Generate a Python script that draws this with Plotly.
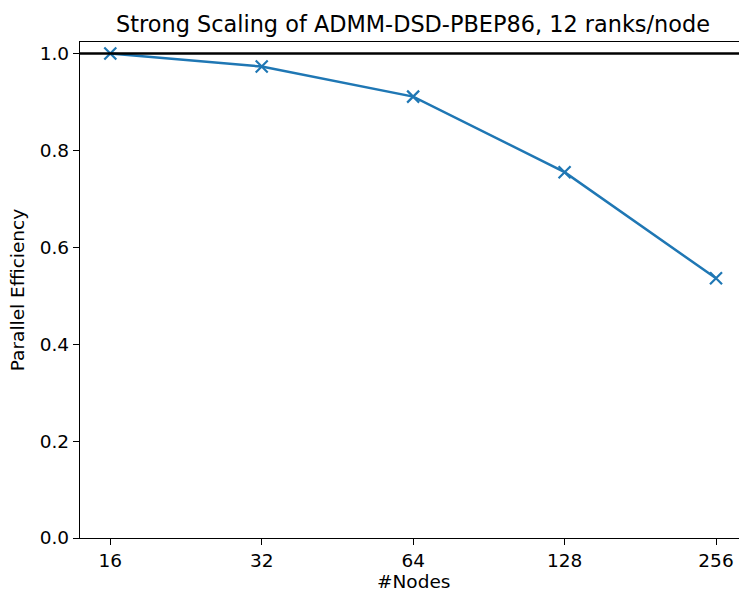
import plotly.graph_objects as go
import math

nodes = [16, 32, 64, 128, 256]
efficiency = [1.0, 0.973, 0.911, 0.755, 0.536]
x_tick_labels = ["16", "32", "64", "128", "256"]
y_ticks = [0.0, 0.2, 0.4, 0.6, 0.8, 1.0]

W, H = 739, 592
L, T, B, R = 80, 42, 54, 0
plot_w = W - L - R

# log2 axis with matplotlib-like 5% margins; right edge clipped by window
lo2 = math.log2(16) - 0.2
px_per = (746.3 - 80) / 4.4
hi2 = lo2 + plot_w / px_per
rng = [lo2 * math.log10(2), hi2 * math.log10(2)]

blue = "#1f77b4"
font = "DejaVu Sans"
fs = 18.5

fig = go.Figure()
fig.add_trace(go.Scatter(
    x=nodes, y=efficiency, mode="lines+markers",
    line=dict(color=blue, width=2.5),
    marker=dict(symbol="x-thin", size=12, line=dict(color=blue, width=2.2), color=blue),
    showlegend=False,
))

fig.add_shape(type="line", xref="paper", yref="y", x0=0, x1=1, y0=1.0, y1=1.0,
              line=dict(color="black", width=2.5), layer="above")

fig.update_layout(
    width=W, height=H,
    margin=dict(l=L, r=R, t=T, b=B),
    paper_bgcolor="white", plot_bgcolor="white",
    font=dict(family=font, size=fs, color="black"),
    title=dict(text="Strong Scaling of ADMM-DSD-PBEP86, 12 ranks/node",
               font=dict(family=font, size=22.4, color="black"),
               x=413 / W, xref="container", xanchor="center",
               y=1 - 32 / H, yref="container", yanchor="bottom"),
    xaxis=dict(type="log", range=rng, tickvals=nodes, ticktext=x_tick_labels,
               showgrid=False, zeroline=False, showline=True, linecolor="black",
               linewidth=1.4, mirror=True, ticks="outside", ticklen=6, tickwidth=1.3,
               tickcolor="black", tickfont=dict(size=fs)),
    yaxis=dict(range=[0, 1.0237], tickvals=y_ticks,
               ticktext=[f"{v:.1f}" for v in y_ticks],
               showgrid=False, zeroline=False, showline=True, linecolor="black",
               linewidth=1.4, ticks="outside", ticklen=6, tickwidth=1.3,
               tickcolor="black", tickfont=dict(size=fs),
               title=dict(text="Parallel Efficiency", font=dict(size=fs), standoff=10)),
    annotations=[dict(text="#Nodes", xref="paper", yref="paper",
                      x=(413 - L) / plot_w, y=0, xanchor="center", yanchor="top",
                      yshift=-31, showarrow=False, font=dict(size=fs))],
)

fig.write_html("out.html")
